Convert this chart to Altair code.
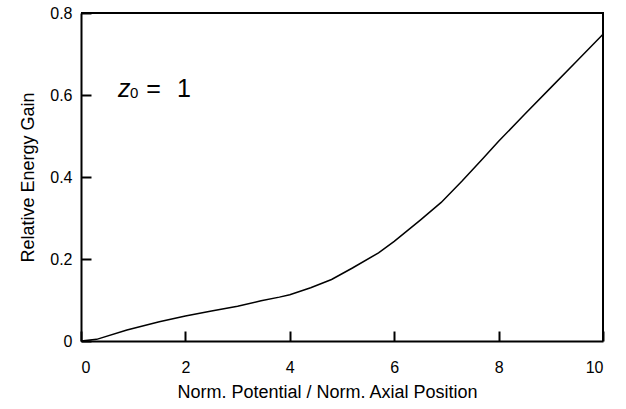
import altair as alt
import pandas as pd

# Curve values
x_vals = [0, 0.3, 0.88, 1.5, 2.0, 2.5, 3.0, 3.45, 3.8, 4.0, 4.4, 4.8, 5.2, 5.7,
          6.0, 6.5, 6.9, 7.3, 7.7, 8.0, 8.5, 9.0, 9.5, 10]
y_vals = [0, 0.004, 0.027, 0.047, 0.061, 0.073, 0.085, 0.098, 0.107, 0.113, 0.13,
          0.15, 0.178, 0.215, 0.243, 0.295, 0.338, 0.39, 0.445, 0.487, 0.553,
          0.618, 0.683, 0.748]

x_ticks = [0, 2, 4, 6, 8, 10]
y_ticks = [0, 0.2, 0.4, 0.6, 0.8]

# annotation "z0 = 1"
ann_text = ["z", "0", "=", "1"]
ann_x = [0.71, 0.94, 1.25, 1.84]
ann_y = [0.595, 0.593, 0.595, 0.595]
ann_size = [25, 15, 25, 25]
ann_style = ["italic", "normal", "normal", "normal"]

FONT = "Liberation Sans"
W, H = 522, 328
XMIN, XMAX, YMIN, YMAX = 0, 10, 0, 0.8

df = pd.DataFrame({"x": x_vals, "y": y_vals})
xs = alt.Scale(domain=[XMIN, XMAX], nice=False, zero=False)
ys = alt.Scale(domain=[YMIN, YMAX], nice=False, zero=False)

# inward ticks via a negative tick size given as an expression
common = dict(domainColor="black", domainWidth=2, grid=False,
              tickColor="black", tickWidth=2, tickSize={"expr": "-10"},
              labelFont=FONT, labelFontSize=16, labelColor="black",
              titleFont=FONT, titleFontSize=18, titleFontWeight="normal",
              titleColor="black")

line = alt.Chart(df).mark_line(color="black", strokeWidth=1.5).encode(
    x=alt.X("x:Q", scale=xs,
            axis=alt.Axis(values=x_ticks, title="Norm. Potential / Norm. Axial Position",
                          labelPadding=28, titlePadding=8, titleX=246, **common)),
    y=alt.Y("y:Q", scale=ys,
            axis=alt.Axis(values=y_ticks, title="Relative Energy Gain",
                          labelPadding=19, titlePadding=12,
                          labelExpr="datum.value == 0 ? '0' : format(datum.value, '.1f')",
                          **common)),
)

# top/right frame of the plot box
frame = pd.DataFrame({"fx": [XMIN, XMAX, XMAX], "fy": [YMAX, YMAX, YMIN], "o": [0, 1, 2]})
frame_line = alt.Chart(frame).mark_line(color="black", strokeWidth=2).encode(
    x=alt.X("fx:Q", scale=xs), y=alt.Y("fy:Q", scale=ys), order="o:Q")

layers = [line, frame_line]
ann = pd.DataFrame({"t": ann_text, "ax": ann_x, "ay": ann_y})
for i in range(len(ann_text)):
    layers.append(
        alt.Chart(ann.iloc[[i]]).mark_text(
            font=FONT, fontSize=ann_size[i], fontStyle=ann_style[i],
            align="left", baseline="alphabetic", color="black").encode(
            x=alt.X("ax:Q", scale=xs), y=alt.Y("ay:Q", scale=ys), text="t:N"))

chart = alt.layer(*layers).properties(
    width=W, height=H,
    autosize=alt.AutoSizeParams(type="none"),
    padding={"left": 81, "top": 13, "right": 23, "bottom": 68},
    background="white",
).configure_view(strokeWidth=0)

chart.save("out.html", embed_options={"renderer": "svg", "actions": False})
